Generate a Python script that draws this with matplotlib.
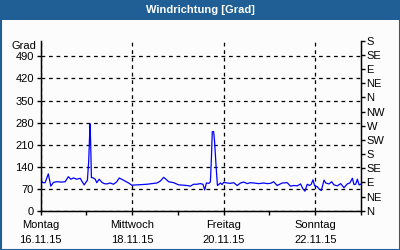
import matplotlib
matplotlib.use('Agg')
import matplotlib.pyplot as plt
from matplotlib.patches import Rectangle
from matplotlib.ticker import FixedLocator

# hours since Monday 16.11.15 00:00, wind direction in degrees
hours = [0, 1.1, 2.3, 4.0, 5.3, 6.7, 8.4, 11.0, 12.8, 14.5, 15.8, 17.2, 18.9, 20.7,
         22.8, 24.5, 25.2, 25.6, 25.9, 26.3, 26.6, 27.3, 28.6, 29.4, 30.7, 32.1, 33.3,
         34.7, 36.4, 38.2, 39.9, 41.2, 43.4, 46.1, 47.8, 50.5, 53.1, 55.7, 58.3, 61.0,
         62.7, 64.5, 65.7, 67.1, 69.7, 72.4, 75.0, 76.7, 78.5, 80.2, 81.9, 83.7, 85.1,
         86.0, 86.9, 88.3, 89.0, 89.5, 90.0, 90.7, 91.2, 92.0, 92.7, 94.3, 95.1, 96.0,
         97.8, 99.5, 101.3, 103.0, 104.8, 106.5, 108.3, 110.0, 111.8, 114.4, 117.0,
         118.8, 120.6, 122.2, 124.0, 126.7, 129.3, 131.0, 132.8, 134.6, 136.3, 137.5,
         138.6, 139.8, 141.0, 141.9, 142.8, 143.7, 145.1, 146.0, 147.2, 148.6, 149.5,
         151.2, 152.6, 153.8, 155.6, 157.3, 159.1, 160.8, 162.1, 163.5, 164.3, 165.2,
         166.1, 167.0, 167.8]
grad = [98, 89, 89, 117, 78, 90, 92, 91, 92, 108, 100, 104, 100, 103,
        82, 97, 160, 230, 276, 190, 105, 105, 100, 89, 100, 90, 86,
        85, 88, 84, 92, 104, 97, 88, 81, 82, 83, 84, 86, 88,
        94, 106, 100, 92, 89, 82, 81, 80, 78, 84, 84, 86, 84,
        66, 88, 87, 92, 160, 251, 251, 220, 140, 80, 88, 83, 90,
        88, 87, 89, 80, 88, 91, 86, 89, 88, 86, 88,
        86, 87, 92, 80, 88, 89, 78, 80, 79, 85, 70,
        62, 84, 80, 84, 98, 79, 76, 69, 64, 97, 88,
        85, 92, 82, 79, 86, 73, 85, 88, 103, 83, 84,
        100, 82, 84]

day_names = ['Montag', 'Mittwoch', 'Freitag', 'Sonntag']
day_dates = ['16.11.15', '18.11.15', '20.11.15', '22.11.15']
left_ticks = [0, 70, 140, 210, 280, 350, 420, 490]
compass = ['N', 'NE', 'E', 'SE', 'S', 'SW', 'W', 'NW', 'N', 'NE', 'E', 'SE', 'S']

blue = '#1f5f96'
plt.rcParams['font.family'] = ['Liberation Sans', 'DejaVu Sans']
plt.rcParams['font.size'] = 8

fig = plt.figure(figsize=(4, 2.5), dpi=100)
fig.patch.set_facecolor('#fcfcfc')
# title bar and frame
fig.add_artist(Rectangle((0, 1 - 20 / 250), 1, 20 / 250, transform=fig.transFigure,
                         facecolor=blue, edgecolor='none'))
fig.add_artist(Rectangle((0.5 / 400, 0.5 / 250), 1 - 1 / 400, 1 - 1 / 250,
                         transform=fig.transFigure, facecolor='none',
                         edgecolor=blue, linewidth=1.5))
fig.text(0.5, 1 - 10 / 250, 'Windrichtung [Grad]', color='white', fontweight='bold',
         ha='center', va='center', fontsize=8)

ax = fig.add_axes([40.7 / 400, 1 - 210.7 / 250, 320.3 / 400, 170 / 250])
ax.set_facecolor('#fcfcfc')
x = [h / 24 for h in hours]
ax.plot(x, grad, color='#0000ff', linewidth=0.9)
ax.set_xlim(0, 7)
ax.set_ylim(0, 540)

ax.spines['top'].set_visible(False)
for s in ['left', 'bottom', 'right']:
    ax.spines[s].set_linewidth(1.0)

ax.set_yticks(left_ticks)
ax.set_yticklabels([str(v) for v in left_ticks])
ax.set_xticks([0, 2, 4, 6])
ax.set_xticklabels([n + '\n' + d for n, d in zip(day_names, day_dates)], linespacing=1.6)
ax.xaxis.set_minor_locator(FixedLocator([1, 3, 5, 7]))
ax.tick_params(axis='both', which='both', direction='out', length=3, width=1, pad=2)
ax.tick_params(axis='x', pad=4)

ax.grid(True, which='major', color='black', linestyle=(0, (3, 3)), linewidth=0.9)

ax2 = ax.twinx()
ax2.set_ylim(0, 540)
ax2.set_yticks(range(0, 541, 45))
ax2.set_yticklabels(compass)
ax2.spines['top'].set_visible(False)
ax2.tick_params(axis='y', direction='out', length=3, width=1, pad=1)

ax.text(-0.015, 522, 'Grad', transform=ax.get_yaxis_transform(), ha='right', va='center')

plt.savefig('out.png', dpi=100, facecolor=fig.get_facecolor())
plt.close()
